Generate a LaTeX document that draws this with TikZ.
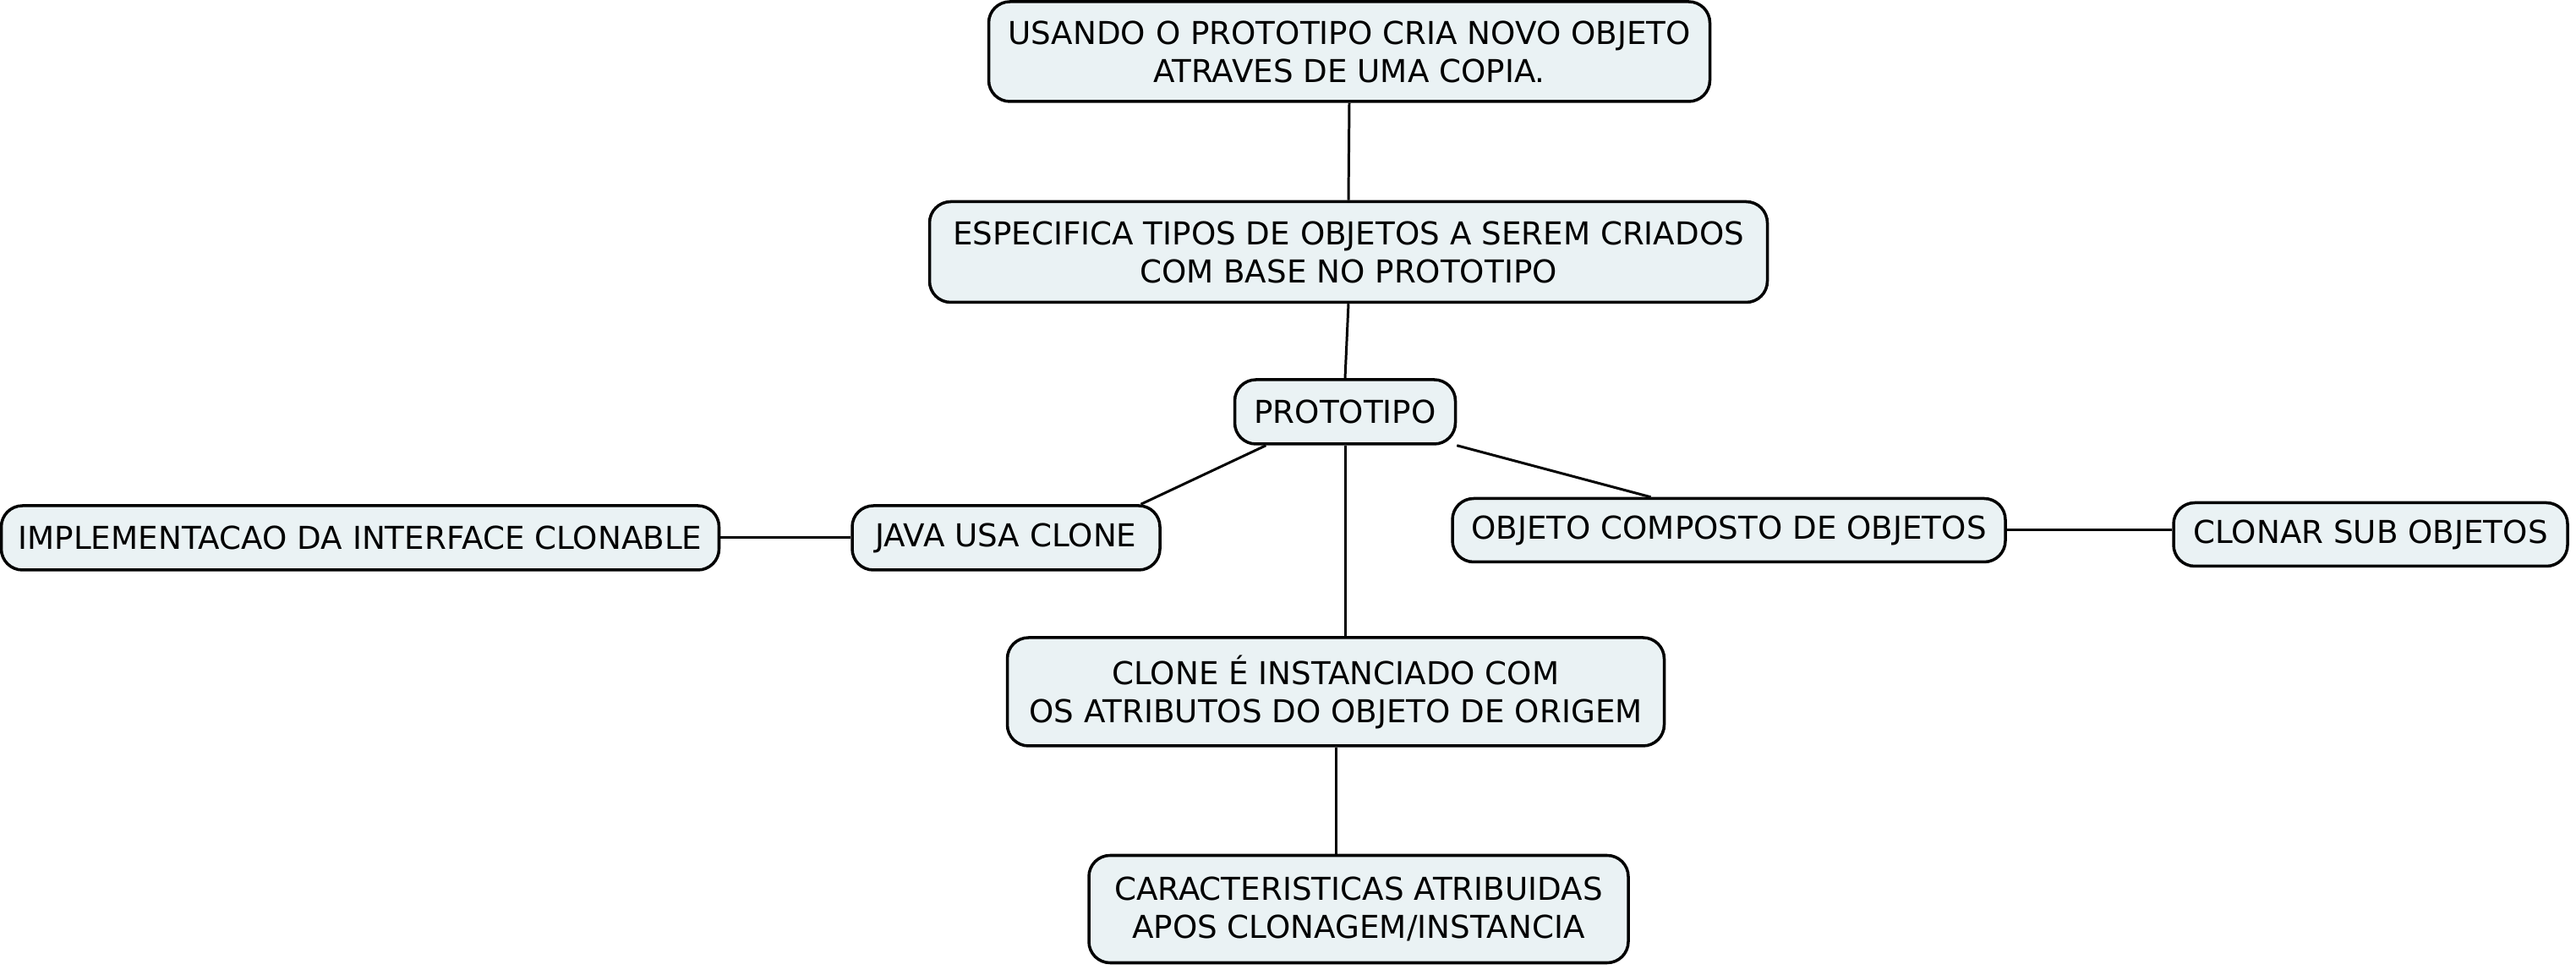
\documentclass[tikz,border=0pt]{standalone}
\usepackage{fontspec}
\setmainfont{DejaVu Sans}
\usetikzlibrary{shapes,positioning,calc}
\definecolor{boxfill}{RGB}{234,242,244}
\tikzstyle{topic} = [draw,line width=1pt,rectangle,rounded corners=.25cm,fill=boxfill,align=center,inner sep=0,font=\fontsize{10.6}{12.8}\selectfont]
\tikzstyle{link} = [-,line width=0.85pt]
\def \hone {0.76cm}

\begin{document}
\begin{tikzpicture}
      \useasboundingbox (0,0) rectangle (30.47,-11.47);
      \node[topic,minimum width=8.53cm,minimum height=1.18cm] (copia) at (15.96,-0.61) {USANDO O PROTOTIPO CRIA NOVO OBJETO\\ATRAVES DE UMA COPIA.};
      \node[topic,minimum width=9.91cm,minimum height=1.19cm] (tipos) at (15.95,-2.98) {ESPECIFICA TIPOS DE OBJETOS A SEREM CRIADOS\\COM BASE NO PROTOTIPO};
      \node[topic,minimum width=2.61cm,minimum height=\hone] (prot) at (15.91,-4.87) {PROTOTIPO};
      \node[topic,minimum width=3.64cm,minimum height=\hone] (java) at (11.90,-6.36) {JAVA USA CLONE};
      \node[topic,minimum width=8.49cm,minimum height=\hone] (iface) at (4.26,-6.36) {IMPLEMENTACAO DA INTERFACE CLONABLE};
      \node[topic,minimum width=6.54cm,minimum height=0.75cm] (comp) at (20.45,-6.27) {OBJETO COMPOSTO DE OBJETOS};
      \node[topic,minimum width=4.66cm,minimum height=0.75cm] (sub) at (28.04,-6.32) {CLONAR SUB OBJETOS};
      \node[topic,minimum width=7.77cm,minimum height=1.28cm] (clone) at (15.80,-8.18) {CLONE É INSTANCIADO COM\\OS ATRIBUTOS DO OBJETO DE ORIGEM};
      \node[topic,minimum width=6.38cm,minimum height=1.27cm] (carac) at (16.07,-10.75) {CARACTERISTICAS ATRIBUIDAS\\APOS CLONAGEM/INSTANCIA};
      \draw[link] (copia.south) -- (tipos.north);
      \draw[link] (tipos.south) -- (prot.north);
      \draw[link] (prot.203.6) -- (java.14.7);
      \draw[link] (prot.south east) -- (comp.157.8);
      \draw[link] (prot.south) -- (prot.south |- clone.north);
      \draw[link] (java.west) -- (iface.east);
      \draw[link] (comp.east) -- (comp.east -| sub.west);
      \draw[link] (clone.south) -- (clone.south |- carac.north);
    \end{tikzpicture}
\end{document}
